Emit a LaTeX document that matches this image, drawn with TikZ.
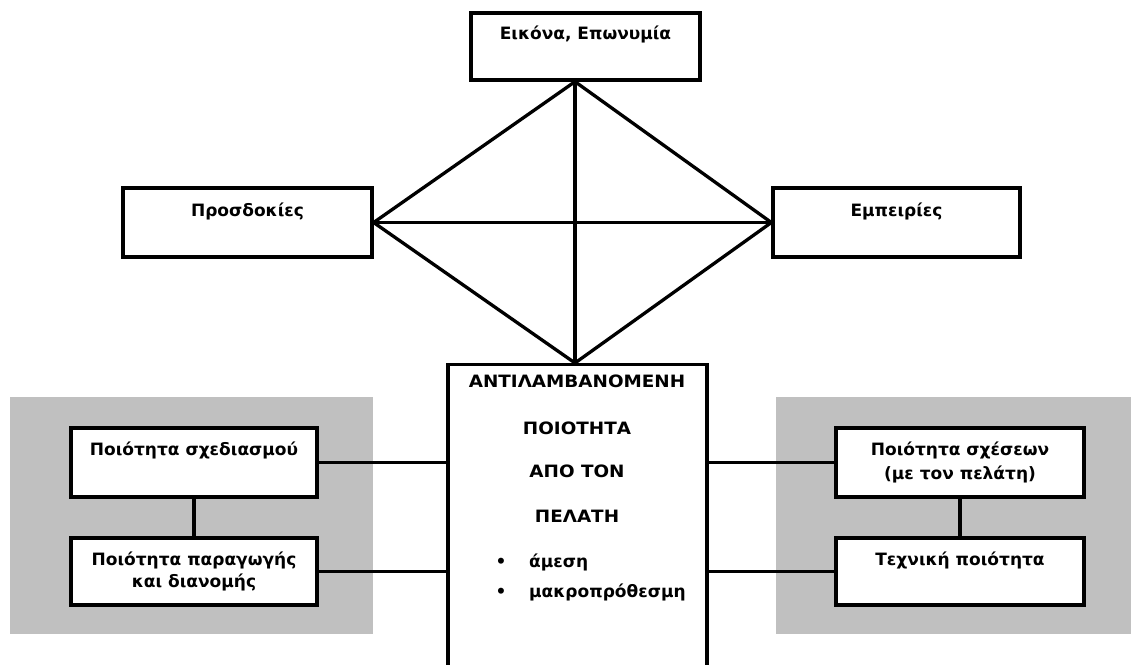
\documentclass[tikz,border=0pt]{standalone}
\usepackage{fontspec}
\setmainfont{DejaVu Sans}
\newfontfamily\capsfont[FakeStretch=1.08]{DejaVu Sans}
\begin{document}
\begin{tikzpicture}[x=1pt,y=-1pt,
  frame/.style={draw=black,line width=3.3pt,fill=white,inner sep=0pt,minimum width=#1},
  panel/.style={fill=shade,draw=none},
  link/.style={draw=black,line width=3.3pt},
  lbl/.style={font=\fontsize{17pt}{20pt}\selectfont\bfseries,inner sep=0pt,anchor=base},
  caps/.style={lbl,font=\capsfont\fontsize{17pt}{20pt}\selectfont\bfseries}]
\definecolor{shade}{RGB}{192,192,192}
\useasboundingbox (0,0) rectangle (1131,664);

% grey backgrounds of the two side groups
\path[panel] (10,397) rectangle (373,634);
\path[panel] (776,397) rectangle (1131,634);

% boxes
\node[frame=229pt,minimum height=67pt] (img) at (585.5,46.5) {};
\node[frame=249pt,minimum height=69pt] (pros) at (247.5,222.5) {};
\node[frame=247pt,minimum height=69pt] (emp) at (896.5,222.5) {};
\node[frame=259pt,minimum height=320pt,anchor=north] (pq) at (577.5,363) {};
\node[frame=246pt,minimum height=69pt] (design) at (194,462.5) {};
\node[frame=246pt,minimum height=67pt] (prod) at (194,571.5) {};
\node[frame=248pt,minimum height=69pt] (rel) at (960,462.5) {};
\node[frame=248pt,minimum height=67pt] (tech) at (960,571.5) {};

% diamond between the four upper boxes
\coordinate (dT) at ([xshift=-10.5pt]img.south);
\coordinate (dB) at ([xshift=-2.5pt]pq.north);
\draw[link,line join=round] (dT) -- (pros.east) -- (dB) -- (emp.west) -- cycle;
\draw[link] (dT) -- (dB);
\draw[link] (pros.east) -- (emp.west);

% side connections
\draw[link] (design.east) -- (design.east -| pq.west);
\draw[link] (prod.east) -- (prod.east -| pq.west);
\draw[link] (rel.west) -- (rel.west -| pq.east);
\draw[link] (tech.west) -- (tech.west -| pq.east);
\draw[link] (design.south) -- (prod.north);
\draw[link] (rel.south) -- (tech.north);

% texts (multi-line labels sit on the baseline of their last line)
\node[lbl] (timg) at (585.5,39) {Εικόνα, Επωνυμία};
\node[lbl] (tpros) at (247.5,216) {Προσδοκίες};
\node[lbl] (temp) at (896.5,216) {Εμπειρίες};
\node[lbl] (tdesign) at (194,455) {Ποιότητα σχεδιασμού};
\node[lbl,align=center] (tprod) at (194,587) {Ποιότητα παραγωγής\\[2pt]και διανομής};
\node[lbl,align=center] (trel) at (960,479) {Ποιότητα σχέσεων\\[4pt](με τον πελάτη)};
\node[lbl] (ttech) at (960,565) {Τεχνική ποιότητα};

\node[caps] (pq1) at (577,387) {ΑΝΤΙΛΑΜΒΑΝΟΜΕΝΗ};
\node[caps] (pq2) at (577,434) {ΠΟΙΟΤΗΤΑ};
\node[caps] (pq3) at (577,477) {ΑΠΟ ΤΟΝ};
\node[caps] (pq4) at (577,522) {ΠΕΛΑΤΗ};
\node[lbl] (b1) at (501,567) {•};
\node[lbl,anchor=base west] (pq5) at (529,567) {άμεση};
\node[lbl] (b2) at (501,597) {•};
\node[lbl,anchor=base west] (pq6) at (529,597) {μακροπρόθεσμη};
\end{tikzpicture}
\end{document}
